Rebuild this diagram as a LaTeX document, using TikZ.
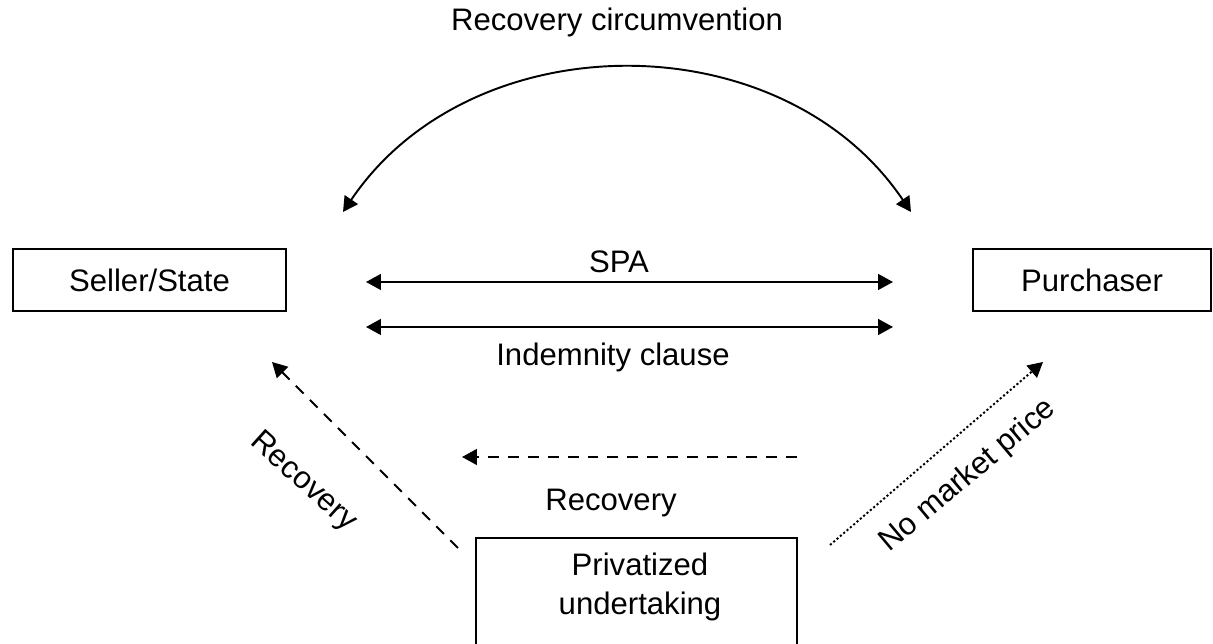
\documentclass[tikz,border=0pt]{standalone}
\usepackage{fontspec}
\setmainfont{Liberation Sans}
\usetikzlibrary{arrows.meta}
\tikzset{
  lbl/.style={font=\fontsize{17.7}{22}\selectfont, inner sep=0pt, align=center},
  box/.style={draw, line width=1.1pt, inner sep=0pt, font=\fontsize{17.7}{22}\selectfont},
  conn/.style={line width=1.1pt, -{Triangle[length=8.5pt,width=9pt]}},
  biconn/.style={line width=1.1pt, {Triangle[length=8.5pt,width=9pt]}-{Triangle[length=8.5pt,width=9pt]}},
  dashline/.style={dash pattern=on 6.2pt off 5.1pt},
  dotline/.style={dash pattern=on 1.2pt off 1.3pt}
}
\begin{document}
\begin{tikzpicture}[x=0.02cm,y=0.02cm]
\useasboundingbox (0,0) rectangle (1213,644);
% boxes
\node[box, minimum width=5.46cm, minimum height=1.24cm] (seller) at (149.5,364) {Seller/State};
\node[box, minimum width=4.76cm, minimum height=1.24cm] (purch) at (1092,364) {Purchaser};
\node[box, anchor=north, minimum width=6.42cm, minimum height=2.7cm] (priv) at (636.5,107) {};
\node[lbl] (privtext) at (640,57) {Privatized\\undertaking};
% labels
\node[lbl] (title) at (617,622) {Recovery circumvention};
\node[lbl] (spa) at (619,382) {SPA};
\node[lbl] (indem) at (613,287) {Indemnity clause};
\node[lbl] (rec) at (611,141) {Recovery};
\node[lbl, rotate=-42] (recl) at (303,162) {Recovery};
\node[lbl, rotate=40] (nmp) at (968,168) {No market price};
% connector endpoints
\coordinate (arcL) at (343,432);
\coordinate (arcR) at (911,432);
\coordinate (spaL) at (366,362);
\coordinate (spaR) at (893,362);
\coordinate (indL) at (366,317);
\coordinate (indR) at (893,317);
\coordinate (hS) at (797,187);
\coordinate (hT) at (462,187);
\coordinate (lS) at (458,96);
\coordinate (lT) at (272,282);
\coordinate (rS) at (830,99);
\coordinate (rT) at (1043,282);
% connectors
\draw[biconn] (arcL) to[bend left=56, looseness=1.04] (arcR);
\draw[biconn] (spaL) -- (spaR);
\draw[biconn] (indL) -- (indR);
\draw[conn, dashline] (hS) -- (hT);
\draw[conn, dashline] (lS) -- (lT);
\draw[conn, dotline] (rS) -- (rT);
\end{tikzpicture}
\end{document}
